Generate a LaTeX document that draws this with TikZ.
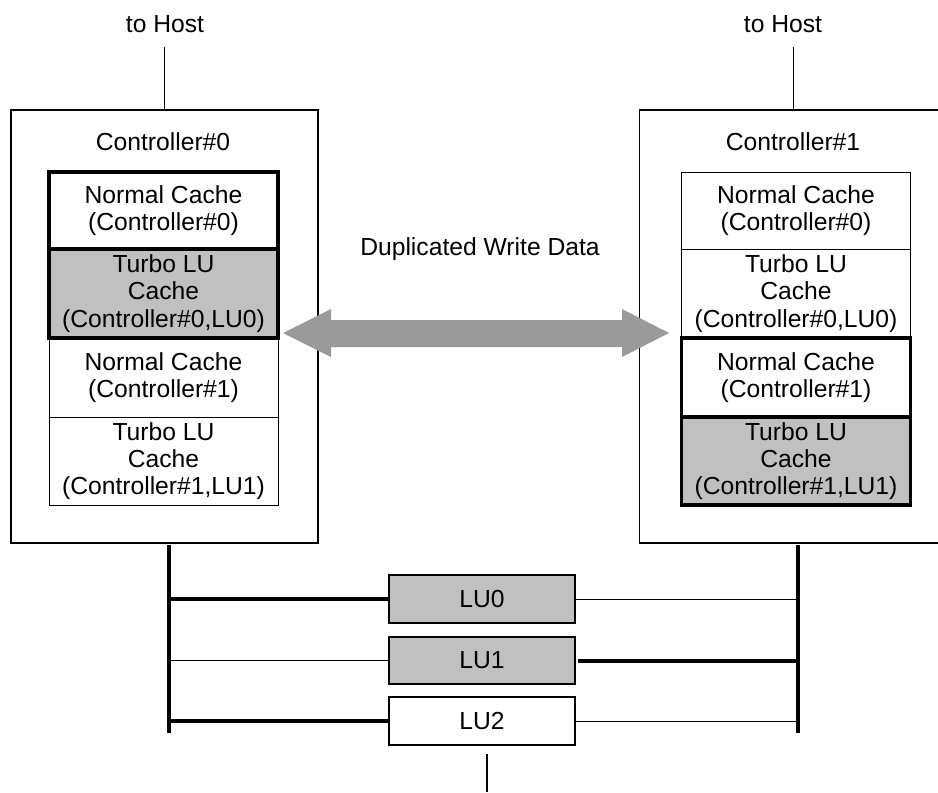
\documentclass[tikz,border=0pt]{standalone}
\usepackage{fontspec}
\setmainfont{Liberation Sans}
\begin{document}
\begin{tikzpicture}[x=0.75pt,y=-0.75pt,
  every node/.style={font=\fontsize{18.5pt}{20.5pt}\selectfont, inner sep=0pt, outer sep=0pt},
  ctrlbox/.style={draw, line width=0.9pt, rectangle, minimum width=230.25pt, minimum height=324.75pt},
  cachebox/.style={draw, line width=0.75pt, rectangle, align=center, minimum width=171.75pt},
  hot/.style={line width=2.4pt},
  grayfill/.style={fill=cachegray},
  lubox/.style={draw, line width=0.9pt, rectangle, minimum width=139.5pt, minimum height=36pt},
  thinline/.style={line width=0.75pt},
  thickline/.style={line width=3pt}
]
\definecolor{cachegray}{HTML}{C0C0C0}
\definecolor{arrowgray}{HTML}{9A9A9A}
\useasboundingbox (0,0) rectangle (938,792);
\clip (0,0) rectangle (938,792);

% host labels and lines
\node (host0) at (165,24) {to Host};
\node (host1) at (783,24) {to Host};
\coordinate (h0) at (164.5,47);
\coordinate (h1) at (793,47);

% controllers
\node[ctrlbox] (ctrl0) at (164.5,326.5) {};
\node[ctrlbox] (ctrl1) at (793,326.5) {};
\draw[thinline] (h0) -- (ctrl0.north);
\draw[thinline] (h1) -- (ctrl1.north);
\node (lab0) at (163,142) {Controller\#0};
\node (lab1) at (793,142) {Controller\#1};

% left cache stack
\node[cachebox, minimum height=59.25pt] (l3) at (163.5,377.5) {Normal Cache\\(Controller\#1)};
\node[cachebox, minimum height=66pt] (l4) at (163.5,461) {Turbo LU\\Cache\\(Controller\#1,LU1)};
\node[cachebox, hot, minimum height=57.75pt] (l1) at (163.5,210.5) {Normal Cache\\(Controller\#0)};
\node[cachebox, hot, grayfill, minimum height=66.75pt] (l2) at (163.5,293.5) {Turbo LU\\Cache\\(Controller\#0,LU0)};

% right cache stack
\node[cachebox, minimum height=57.75pt] (r1) at (796,210.5) {Normal Cache\\(Controller\#0)};
\node[cachebox, minimum height=66.75pt] (r2) at (796,293.5) {Turbo LU\\Cache\\(Controller\#0,LU0)};
\node[cachebox, hot, minimum height=59.25pt] (r3) at (796,377.5) {Normal Cache\\(Controller\#1)};
\node[cachebox, hot, grayfill, minimum height=66pt] (r4) at (796,461) {Turbo LU\\Cache\\(Controller\#1,LU1)};

% duplicated write data arrow
\node (dup) at (480,249) {Duplicated Write Data};
\fill[arrowgray] (283,333) -- (331,309) -- (331,320) -- (622,320) -- (622,309) -- (669,333)
  -- (622,357) -- (622,347) -- (331,347) -- (331,357) -- cycle;

% buses
\coordinate (bl1) at (169,545);
\coordinate (bl2) at (169,733);
\coordinate (br1) at (798,545);
\coordinate (br2) at (798,733);
\draw[thickline] (bl1) -- (bl2);
\draw[thickline] (br1) -- (br2);

% LUs
\node[lubox, grayfill] (lu0) at (482,599) {LU0};
\node[lubox, grayfill, minimum height=35.25pt] (lu1) at (482,660.5) {LU1};
\node[lubox] (lu2) at (482,721) {LU2};

\draw[thickline] (lu0.west) -- (lu0.west -| bl1);
\draw[thinline] (lu0.east) -- (lu0.east -| br1);
\draw[thinline] (lu1.west) -- (lu1.west -| bl1);
\draw[thickline] ([xshift=2pt]lu1.east) -- (lu1.east -| br1);
\draw[thickline] (lu2.west) -- (lu2.west -| bl1);
\draw[thinline] (lu2.east) -- (lu2.east -| br1);

% bottom line
\coordinate (b1) at (487,754);
\coordinate (b2) at (487,792);
\draw[line width=1.5pt] (b1) -- (b2);
\end{tikzpicture}
\end{document}
